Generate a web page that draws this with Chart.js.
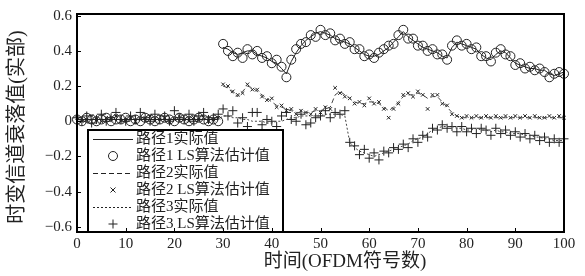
<!DOCTYPE html>
<html>
<head>
<meta charset="utf-8">
<script src="https://cdn.jsdelivr.net/npm/chart.js@4.4.1/dist/chart.umd.min.js"></script>
<style>
  body { margin: 0; background: #fff; }
  canvas { display: block; }
</style>
</head>
<body>
<canvas id="c" width="585" height="276"></canvas>
<script>
// values, one per OFDM symbol (0..100)
const line1 = [
  0.01,0.01,0.01,0.01,0.01,0.01,0.01,0.01,0.01,0.01,
  0.01,0.01,0.01,0.01,0.01,0.01,0.01,0.01,0.01,0.01,
  0.01,0.01,0.01,0.01,0.01,0.01,0.01,0.01,0.01,0.01,
  0.42,0.41,0.39,0.38,0.39,0.40,0.40,0.38,0.37,0.36,
  0.34,0.33,0.30,0.27,0.34,0.39,0.43,0.46,0.48,0.50,
  0.51,0.50,0.49,0.47,0.46,0.45,0.44,0.42,0.40,0.38,
  0.37,0.37,0.38,0.40,0.42,0.45,0.48,0.51,0.48,0.46,
  0.44,0.42,0.41,0.40,0.39,0.37,0.36,0.42,0.45,0.44,
  0.43,0.42,0.41,0.38,0.36,0.35,0.38,0.40,0.39,0.36,
  0.33,0.32,0.31,0.30,0.30,0.29,0.29,0.27,0.26,0.27,
  0.28
];
const est1 = [
  0.01,0.00,0.02,0.01,0.00,0.01,0.02,0.00,0.01,0.01,
  0.02,0.00,0.01,0.00,0.02,0.01,0.00,0.01,0.02,0.01,
  0.00,0.02,0.01,0.00,0.01,0.02,0.01,0.00,0.01,0.00,
  0.44,0.40,0.37,0.39,0.36,0.41,0.38,0.40,0.36,0.37,
  0.33,0.35,0.31,0.25,0.35,0.41,0.44,0.45,0.49,0.48,
  0.52,0.49,0.50,0.46,0.47,0.44,0.45,0.41,0.41,0.37,
  0.38,0.36,0.39,0.41,0.43,0.44,0.49,0.52,0.47,0.47,
  0.43,0.43,0.40,0.41,0.38,0.38,0.35,0.43,0.46,0.43,
  0.44,0.41,0.42,0.37,0.37,0.34,0.39,0.41,0.38,0.37,
  0.32,0.33,0.30,0.31,0.29,0.30,0.28,0.25,0.27,0.28,
  0.27
];
const line2 = [
  0.01,0.01,0.01,0.01,0.01,0.01,0.01,0.01,0.01,0.01,
  0.01,0.01,0.01,0.01,0.01,0.01,0.01,0.01,0.01,0.01,
  0.01,0.01,0.01,0.01,0.01,0.01,0.01,0.01,0.01,0.01,
  0.20,0.19,0.16,0.14,0.17,0.20,0.19,0.17,0.15,0.13,
  0.11,0.09,0.08,0.07,0.06,0.05,0.05,0.05,0.05,0.06,
  0.06,0.07,0.08,0.15,0.17,0.15,0.13,0.11,0.10,0.10,
  0.11,0.11,0.10,0.08,0.06,0.08,0.11,0.14,0.15,0.15,
  0.16,0.15,0.13,0.14,0.14,0.11,0.08,0.05,0.03,0.02,
  0.02,0.02,0.02,0.02,0.02,0.02,0.02,0.02,0.02,0.02,
  0.02,0.02,0.02,0.02,0.02,0.02,0.02,0.02,0.02,0.02,
  0.02
];
const est2 = [
  0.02,0.00,0.01,0.03,0.01,0.00,0.02,0.01,0.03,0.00,
  0.01,0.02,0.00,0.01,0.02,0.03,0.00,0.01,0.02,0.00,
  0.01,0.03,0.01,0.00,0.02,0.01,0.02,0.00,0.01,0.02,
  0.21,0.20,0.17,0.15,0.16,0.21,0.18,0.18,0.14,0.12,
  0.13,0.08,0.09,0.06,0.07,0.04,0.06,0.05,0.04,0.07,
  0.05,0.08,0.07,0.19,0.16,0.14,0.13,0.10,0.11,0.09,
  0.13,0.10,0.11,0.07,0.02,0.07,0.10,0.15,0.16,0.14,
  0.17,0.15,0.07,0.15,0.15,0.10,0.09,0.04,0.03,0.02,
  0.03,0.02,0.03,0.02,0.03,0.02,0.03,0.02,0.03,0.02,
  0.03,0.02,0.03,0.02,0.03,0.02,0.02,0.03,0.02,0.03,
  0.02
];
const line3 = [
  0.01,0.01,0.01,0.01,0.01,0.01,0.01,0.01,0.01,0.01,
  0.01,0.01,0.01,0.01,0.01,0.01,0.01,0.01,0.01,0.01,
  0.01,0.01,0.01,0.01,0.01,0.01,0.01,0.01,0.01,0.01,
  0.03,0.03,0.02,0.02,0.01,0.01,0.00,0.00,0.00,-0.01,
  -0.01,0.00,0.00,0.01,0.02,0.02,0.03,0.03,0.03,0.03,
  0.03,0.04,0.04,0.04,0.04,0.03,-0.12,-0.15,-0.17,-0.18,
  -0.19,-0.20,-0.19,-0.18,-0.17,-0.16,-0.15,-0.14,-0.13,-0.11,
  -0.10,-0.09,-0.07,-0.05,-0.04,-0.03,-0.03,-0.03,-0.04,-0.04,
  -0.05,-0.05,-0.04,-0.05,-0.05,-0.06,-0.05,-0.06,-0.06,-0.07,
  -0.07,-0.07,-0.08,-0.08,-0.09,-0.09,-0.10,-0.10,-0.11,-0.11,
  -0.11
];
const est3 = [
  0.02,0.00,0.03,-0.01,0.01,0.04,0.00,0.02,0.05,0.01,
  0.00,0.03,0.01,0.05,0.02,0.00,0.04,0.01,0.03,0.00,
  0.06,0.02,0.01,0.04,0.00,0.03,0.05,0.01,0.02,0.04,
  0.07,0.03,0.06,-0.01,0.02,-0.03,0.05,0.05,-0.02,0.01,
  0.00,-0.03,0.03,0.05,0.01,0.00,0.04,-0.02,-0.01,0.02,
  0.03,0.06,0.02,0.05,0.04,0.06,-0.12,-0.14,-0.19,-0.16,
  -0.21,-0.18,-0.22,-0.17,-0.18,-0.15,-0.16,-0.13,-0.15,-0.10,
  -0.12,-0.08,-0.09,-0.04,-0.05,-0.02,-0.04,-0.03,-0.06,-0.03,
  -0.06,-0.04,-0.07,-0.04,-0.05,-0.08,-0.04,-0.07,-0.05,-0.08,
  -0.06,-0.09,-0.07,-0.10,-0.08,-0.11,-0.09,-0.12,-0.10,-0.12,
  -0.10
];

const labels = ["路径1实际值", "路径1 LS算法估计值", "路径2实际值",
                "路径2 LS算法估计值", "路径3实际值", "路径3 LS算法估计值"];
const xTicks = [0, 10, 20, 30, 40, 50, 60, 70, 80, 90, 100];
const yTicks = [-0.6, -0.4, -0.2, 0, 0.2, 0.4, 0.6];
const xTitle = "时间(OFDM符号数)";
const yTitle = "时变信道衰落值(实部)";

const serif = '"Liberation Serif", "Noto Sans CJK SC", serif';
const ink = "#222";

//turn a value list into {x,y} points, x = symbol index
const pts = (arr) => arr.map((v, i) => ({ x: i, y: v }));

//hide the near-vertical connector where a path switches on
const hideJump = (color) => (ctx) =>
  Math.abs(ctx.p1.parsed.y - ctx.p0.parsed.y) > 0.18 ? "rgba(0,0,0,0)" : color;

function lineSet(label, data, dash, color) {
  return {
    label, data: pts(data), showLine: true, pointRadius: 0,
    borderColor: color, borderWidth: 1, borderDash: dash,
    segment: { borderColor: hideJump(color) },
    kind: "line",
  };
}
function markSet(label, data, style, r) {
  return {
    label, data: pts(data), showLine: false, pointStyle: style,
    pointRadius: r, pointBorderColor: ink, pointBackgroundColor: "rgba(0,0,0,0)",
    pointBorderWidth: 1, borderColor: ink, clip: false,
    kind: "mark",
  };
}

//frame round the plot + inward tick marks + axis titles
const framePlugin = {
  id: "frame",
  afterDraw(chart) {
    const { ctx, chartArea: a, scales } = chart;
    ctx.save();
    ctx.strokeStyle = "#000";
    ctx.lineWidth = 2;
    ctx.strokeRect(a.left, a.top, a.right - a.left, a.bottom - a.top);
    ctx.lineWidth = 1;
    ctx.beginPath();
    xTicks.forEach((t) => {
      const px = Math.round(scales.x.getPixelForValue(t)) + 0.5;
      ctx.moveTo(px, a.bottom); ctx.lineTo(px, a.bottom - 4);
    });
    yTicks.forEach((t) => {
      const py = Math.round(scales.y.getPixelForValue(t)) + 0.5;
      ctx.moveTo(a.left, py); ctx.lineTo(a.left + 4, py);
    });
    ctx.stroke();

    ctx.fillStyle = ink;
    ctx.textAlign = "center";
    ctx.textBaseline = "middle";
    ctx.font = "19px " + serif;
    ctx.fillText(xTitle, 345, 262);
    ctx.translate(18, 127);
    ctx.rotate(-Math.PI / 2);
    ctx.font = "20px " + serif;
    ctx.fillText(yTitle, 0, 0);
    ctx.restore();
  },
};

//legend box in the lower-left corner of the plot
const legendPlugin = {
  id: "boxLegend",
  afterDatasetsDraw(chart) {
    const { ctx } = chart;
    const box = { l: 88, t: 130, r: 283, b: 232 };
    ctx.save();
    ctx.fillStyle = "#fff";
    ctx.fillRect(box.l, box.t, box.r - box.l, box.b - box.t);
    ctx.strokeStyle = "#000";
    ctx.lineWidth = 2;
    ctx.strokeRect(box.l, box.t, box.r - box.l, box.b - box.t);
    ctx.font = "15px " + serif;
    ctx.textBaseline = "middle";
    ctx.textAlign = "left";
    chart.data.datasets.forEach((ds, i) => {
      const y = 139 + i * 17;
      ctx.strokeStyle = ink;
      ctx.lineWidth = 1;
      if (ds.kind === "line") {
        ctx.setLineDash(ds.borderDash || []);
        ctx.beginPath();
        ctx.moveTo(93, y + 0.5); ctx.lineTo(133, y + 0.5);
        ctx.stroke();
        ctx.setLineDash([]);
      } else {
        const cx = 113, r = ds.pointRadius;
        ctx.beginPath();
        if (ds.pointStyle === "circle") {
          ctx.arc(cx, y, r, 0, Math.PI * 2);
        } else if (ds.pointStyle === "cross") {
          ctx.moveTo(cx - r, y); ctx.lineTo(cx + r, y);
          ctx.moveTo(cx, y - r); ctx.lineTo(cx, y + r);
        } else {
          ctx.moveTo(cx - r, y - r); ctx.lineTo(cx + r, y + r);
          ctx.moveTo(cx - r, y + r); ctx.lineTo(cx + r, y - r);
        }
        ctx.stroke();
      }
      ctx.fillStyle = ink;
      ctx.fillText(ds.label, 136, y);
    });
    ctx.restore();
  },
};

new Chart(document.getElementById("c"), {
  type: "scatter",
  data: {
    datasets: [
      lineSet(labels[0], line1, [], "#222"),
      markSet(labels[1], est1, "circle", 4.5),
      lineSet(labels[2], line2, [5, 3], "#444"),
      markSet(labels[3], est2, "crossRot", 2.5),
      lineSet(labels[4], line3, [2, 2], "#444"),
      markSet(labels[5], est3, "cross", 4.5),
    ],
  },
  options: {
    responsive: false,
    animation: false,
    layout: { padding: { top: 13, right: 21, left: 0, bottom: 0 } },
    plugins: { legend: { display: false }, tooltip: { enabled: false } },
    scales: {
      x: {
        type: "linear", min: 0, max: 100,
        grid: { display: false, drawTicks: false },
        border: { display: false },
        afterBuildTicks: (s) => { s.ticks = xTicks.map((v) => ({ value: v })); },
        afterFit: (s) => { s.height = 44; },
        ticks: { padding: 3, color: ink, font: { family: serif, size: 15 } },
      },
      y: {
        type: "linear", min: -0.63, max: 0.61,
        grid: { display: false, drawTicks: false },
        border: { display: false },
        afterBuildTicks: (s) => { s.ticks = yTicks.map((v) => ({ value: v })); },
        afterFit: (s) => { s.width = 77; },
        ticks: {
          padding: 5, color: ink, font: { family: serif, size: 15 },
          callback: (v) => (v < 0 ? "−" + Math.abs(v) : String(v)),
        },
      },
    },
  },
  plugins: [framePlugin, legendPlugin],
});
</script>
</body>
</html>
